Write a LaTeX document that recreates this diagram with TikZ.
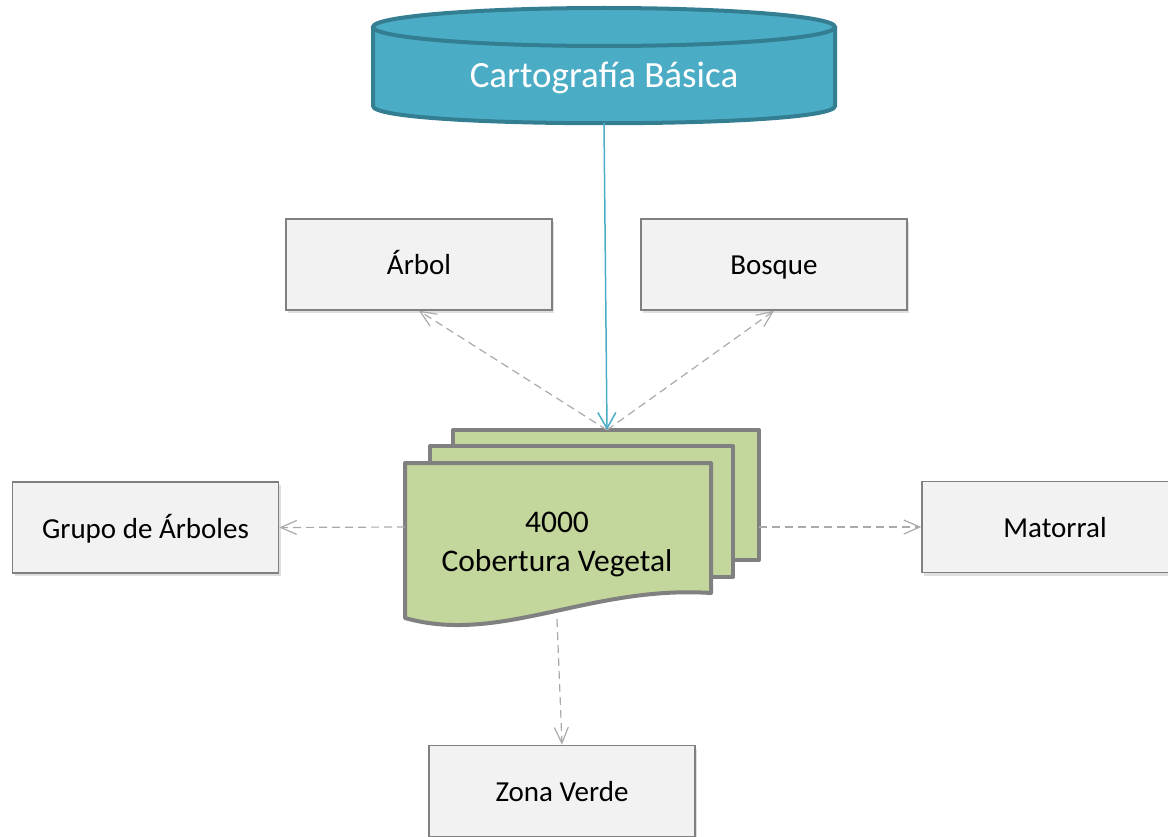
\documentclass[tikz,border=0pt]{standalone}
\usepackage{fontspec}
\setmainfont{Carlito}
\usetikzlibrary{arrows.meta,shadows}
\definecolor{cylfill}{RGB}{75,172,198}
\definecolor{cyledge}{RGB}{52,126,146}
\definecolor{pagefill}{RGB}{195,214,155}
\definecolor{pageedge}{RGB}{128,128,128}
\definecolor{boxfill}{RGB}{242,242,242}
\definecolor{boxedge}{RGB}{128,128,128}
\definecolor{linkcol}{RGB}{170,170,170}

\begin{document}
\begin{tikzpicture}[x=1pt, y=-1pt,
  catbox/.style={draw=boxedge, line width=1.5pt, fill=boxfill,
    minimum width=266pt, minimum height=91pt, inner sep=0pt,
    text height=24pt, text depth=3pt,
    font=\fontsize{29}{35}\selectfont,
    drop shadow={shadow xshift=2pt, shadow yshift=-3pt, opacity=0.25}},
  link/.style={draw=linkcol, line width=1.2pt, dash pattern=on 8pt off 5pt,
    -{Straight Barb[length=16pt,width=14pt]}},
  page/.style={draw=pageedge, line width=4pt, fill=pagefill, line join=round}]
  \useasboundingbox (0,0) rectangle (1168,837);

  % base cartography
  \fill[cylfill] (373,27) -- (373,106) .. controls (373,129) and (835,129) .. (835,106) -- (835,27) -- cycle;
  \draw[cyledge, line width=4pt] (373,27) -- (373,106) .. controls (373,129) and (835,129) .. (835,106) -- (835,27);
  \draw[cyledge, line width=4pt, fill=cylfill] (604,27) ellipse [x radius=231, y radius=19];
  \node[text=white, font=\fontsize{37}{44}\selectfont] (carto) at (604,78) {Cartografía Básica};
  \coordinate (cartobot) at (604,123);

  % stacked pages
  \foreach \xa/\ya/\xb/\yb in {453/430/759/560, 430/446/733/577}
    \draw[page] (\xa,\ya) rectangle (\xb,\yb);
  \draw[page] (405,463) -- (711,463) -- (711,593) .. controls (590,585) and (500,645) .. (405,618) -- cycle;
  \node[align=center, font=\fontsize{31.5}{39}\selectfont] (cob) at (557,544) {4000\\Cobertura Vegetal};
  \coordinate (ctop) at (607,430);
  \coordinate (cleft) at (405,527);
  \coordinate (cright) at (759,527);
  \coordinate (cbot) at (557,619);

  % classes
  \foreach \nm/\cx/\cy/\txt in {arbol/419/264.5/Árbol, bosque/774/264.5/Bosque,
      grupo/145.5/527.5/Grupo de Árboles, matorral/1055/527/Matorral, zona/562/791/Zona Verde}
    \node[catbox] (\nm) at (\cx,\cy) {\txt};

  \draw[cylfill, line width=1.5pt, -{Straight Barb[length=16pt,width=18pt]}] (cartobot) -- (ctop);
  \draw[link] (ctop) -- (arbol.south);
  \draw[link] (ctop) -- (bosque.south);
  \draw[link] (cleft) -- (grupo.east);
  \draw[link] (cright) -- (matorral.west);
  \draw[link] (cbot) -- (zona.north);
\end{tikzpicture}
\end{document}
